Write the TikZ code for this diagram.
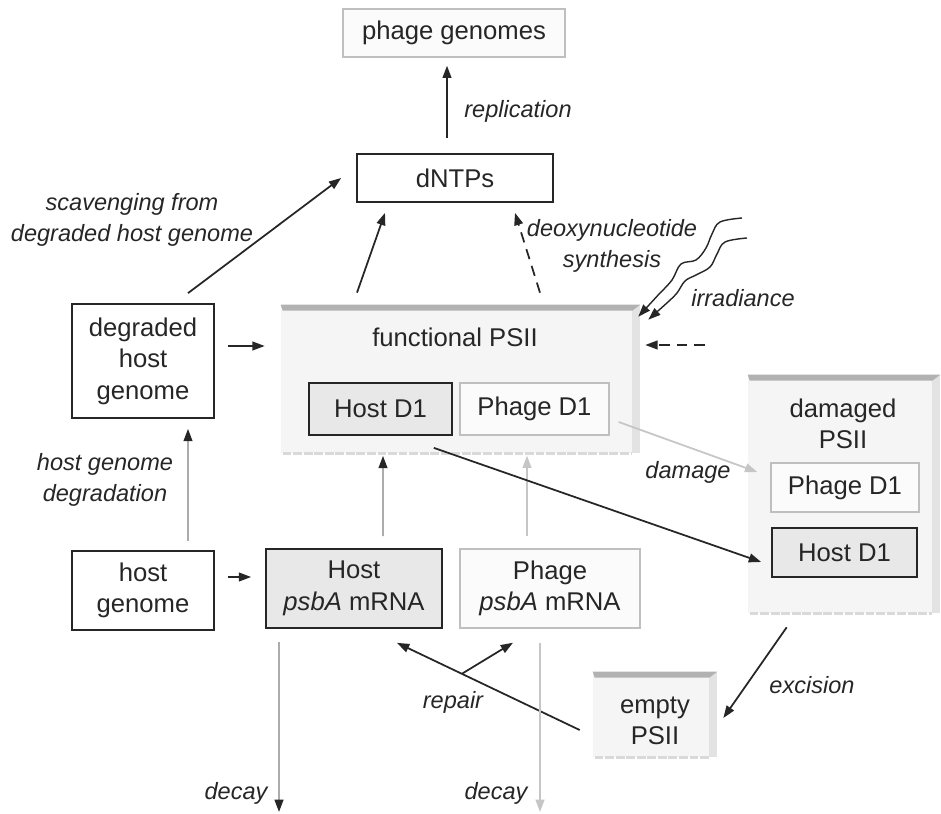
\documentclass[tikz,border=0pt]{standalone}
\usepackage{fontspec}
\setmainfont{Liberation Sans}
\usetikzlibrary{arrows.meta,calc}

\begin{document}
\begin{tikzpicture}[x=0.02cm, y=-0.02cm,
    boxtext/.style={font=\fontsize{14.6}{18}\selectfont, text=black!85, align=center},
    plainbox/.style={rectangle, draw=black!85, line width=1pt, fill=white, boxtext, inner sep=0pt},
    greybox/.style={rectangle, draw=gray!50, line width=0.8pt, fill=gray!3, boxtext, inner sep=0pt},
    hostbox/.style={rectangle, draw=black!85, line width=1pt, fill=gray!18, boxtext, inner sep=0pt},
    psii/.style={rectangle, fill=gray!8, boxtext, inner sep=0pt},
    lbl/.style={font=\fontsize{13.4}{17.6}\selectfont\itshape, text=black!85, align=center},
    arr/.style={line width=1pt, black!85, -{Triangle[length=7pt, width=5pt]}},
    garr/.style={line width=1pt, gray!65, -{Triangle[length=7pt, width=5pt, color=black!85]}},
    larr/.style={line width=1pt, gray!45, -{Triangle[length=7pt, width=5pt]}}]
    \useasboundingbox (0,0) rectangle (941,814);

    % Top row
    \node[greybox, minimum width=4.44cm, minimum height=0.96cm] (phgen) at (454,33) {phage genomes};
    \node[plainbox, minimum width=3.92cm, minimum height=0.96cm] (dntp) at (455,178) {dNTPs};

    % Host side
    \node[plainbox, minimum width=2.84cm, minimum height=2.28cm] (degr) at (143,361) {degraded\\host\\genome};
    \node[plainbox, minimum width=2.84cm, minimum height=1.58cm] (hgen) at (143,590.5) {host\\genome};
    \node[hostbox, minimum width=3.52cm, minimum height=1.58cm] (hmrna) at (354,588.5) {Host\\\textit{psbA} mRNA};
    \node[greybox, minimum width=3.60cm, minimum height=1.58cm] (pmrna) at (550,588.5) {Phage\\\textit{psbA} mRNA};

    % PSII slabs
    \node[psii, minimum width=7.18cm, minimum height=2.96cm] (func) at (460.5,379) {};
    \node[psii, minimum width=3.84cm, minimum height=4.76cm] (dam) at (844,494) {};
    \node[psii, minimum width=2.48cm, minimum height=1.70cm] (empty) at (655,714.5) {};
    \foreach \n in {func, dam, empty} {
        \fill[gray!22] ($(\n.north east)+(-8,0)$) rectangle (\n.south east);
        \fill[gray!60] (\n.north west) -- (\n.north east) -- ($(\n.north east)+(-8,6)$) -- ($(\n.north west)+(2,6)$) -- cycle;
        \draw[gray!30, line width=2pt, dash pattern=on 5pt off 1pt] ($(\n.south west)+(2,0)$) -- ($(\n.south east)+(-8,0)$);
    }

    % Contents of the slabs
    \node[boxtext] (functxt) at (455,337) {functional PSII};
    \node[hostbox, minimum width=2.86cm, minimum height=1.04cm] (hd1) at (380.5,409) {Host D1};
    \node[greybox, minimum width=2.98cm, minimum height=1.04cm] (pd1) at (534.5,409) {Phage D1};
    \node[boxtext] (damtxt) at (843,424) {damaged\\PSII};
    \node[greybox, minimum width=2.96cm, minimum height=0.98cm] (dpd1) at (845,487.5) {Phage D1};
    \node[hostbox, minimum width=2.90cm, minimum height=0.98cm] (dhd1) at (844.5,552.5) {Host D1};
    \node[boxtext] (emptytxt) at (655,721) {empty\\PSII};

    % Free ends
    \coordinate (sun1) at (742,218);
    \coordinate (sun2) at (747,238);
    \coordinate (lamp) at (705,345);
    \coordinate (sinkA) at (279,812);
    \coordinate (sinkB) at (540,812);

    % Connections
    \draw[arr] ($(dntp.north)+(-8,-15)$) -- ($(phgen.south)+(-7,8)$);
    \draw[arr] ($(degr.north)+(45,-10)$) -- ($(dntp.west)+(-15,0)$);
    \draw[arr] ($(degr.east)+(13,-15)$) -- ($(func.west)+(-16,-33)$);
    \draw[arr] ($(func.north)+(-103.5,-12)$) -- ($(dntp.south)+(-70,10)$);
    \draw[arr, dash pattern=on 6pt off 4pt] ($(func.north)+(79.5,-12)$) -- ($(dntp.south)+(60,10)$);
    \draw[arr, dash pattern=on 6pt off 4pt] (lamp) -- ($(func.east)+(5,-34)$);
    \draw[arr, line width=0.8pt] plot[smooth, tension=0.6] coordinates {(sun1) (720,222) (712,234) (706,248) (696,260) (681,264) (672,280) (660,293)} -- ($(func.north east)+(-2,12)$);
    \draw[arr, line width=0.8pt] plot[smooth, tension=0.6] coordinates {(sun2) (725,242) (717,254) (710,267) (696,275) (685,281) (677,293) (668,302)} -- ($(func.north east)+(8,15)$);

    \draw[garr] ($(hgen.north)+(45,-9)$) -- ($(degr.south)+(45,10)$);
    \draw[arr] ($(hgen.east)+(13,-13.5)$) -- ($(hmrna.west)+(-14,-11.5)$);
    \draw[garr] ($(hmrna.north)+(29,-12)$) -- ($(hd1.south)+(2.5,20)$);
    \draw[larr] ($(pmrna.north)+(-23,-12)$) -- ($(pd1.south)+(-7.5,20)$);
    \draw[arr] ($(hd1.south east)+(-19,12)$) -- ($(dhd1.west)+(-10,9.5)$);
    \draw[larr] ($(pd1.east)+(9,13)$) -- ($(dpd1.west)+(-13,-15.5)$);
    \draw[arr] ($(dam.south west)+(39,14)$) -- ($(empty.east)+(6,3.5)$);
    \draw[arr] ($(empty.west)+(-13,15.5)$) -- coordinate[pos=0.645] (fork) ($(hmrna.south)+(43,14)$);
    \draw[arr] (fork) -- ($(pmrna.south)+(-37,14)$);
    \draw[garr] ($(hmrna.south)+(-75,13)$) -- (sinkA);
    \draw[larr] ($(pmrna.south)+(-10,14)$) -- (sinkB);

    % Labels
    \node[lbl] (replbl) at (518,111) {replication};
    \node[lbl] (scavlbl) at (132,220) {scavenging from\\degraded host genome};
    \node[lbl] (synlbl) at (612,246) {deoxynucleotide\\synthesis};
    \node[lbl] (irrlbl) at (743,298) {irradiance};
    \node[lbl] (degrlbl) at (105,480) {host genome\\degradation};
    \node[lbl] (damlbl) at (688,472) {damage};
    \node[lbl] (exclbl) at (812,685) {excision};
    \node[lbl] (replbl2) at (453,702) {repair};
    \node[lbl] (decaylbl) at (236,793) {decay};
    \node[lbl] (decaylbl2) at (496,793) {decay};
\end{tikzpicture}
\end{document}
